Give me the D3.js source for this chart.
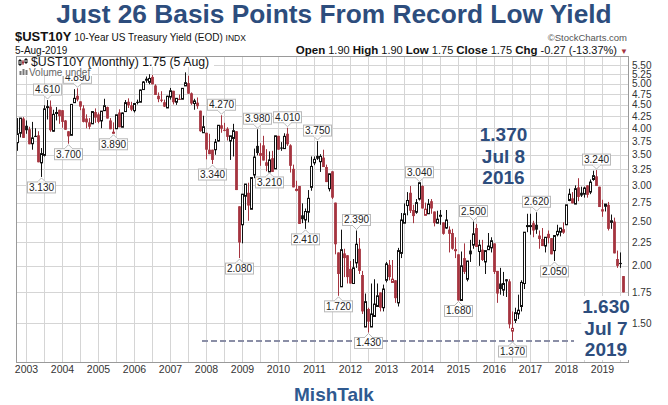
<!DOCTYPE html>
<html><head><meta charset="utf-8">
<script src="https://cdn.jsdelivr.net/npm/d3@7"></script>
<style>
body{margin:0;background:#fff;}
svg{display:block;font-family:"Liberation Sans",Arial,sans-serif;}
</style>
</head><body>
<svg id="c" width="668" height="405"></svg>
<script>
// ---------------- DATA (monthly OHLC, EOD closes, from Oct 2002 to Aug 2019) -------------
const firstMonth = "2002-10";
const opens = [
  3.72, 3.90, 4.20,
  4.05, 3.98, 3.70, 3.85, 3.86, 3.36, 3.49, 4.45, 4.46, 3.94, 4.33, 4.39,
  4.38, 4.16, 3.94, 3.86, 4.55, 4.71, 4.58, 4.42, 4.20, 4.12, 4.09, 4.34,
  4.29, 4.15, 4.37, 4.45, 4.16, 3.91, 3.99, 4.33, 4.02, 4.35, 4.57, 4.49,
  4.37, 4.57, 4.56, 4.86, 5.11, 5.04, 5.18, 4.96, 4.71, 4.62, 4.56, 4.43,
  4.68, 4.83, 4.56, 4.64, 4.63, 4.95, 5.02, 4.77, 4.53, 4.55, 4.37, 3.91,
  3.91, 3.59, 3.59, 3.59, 3.75, 4.06, 3.97, 3.99, 3.75, 3.80, 3.94, 2.70,
  2.46, 2.84, 2.89, 2.66, 3.16, 3.66, 3.53, 3.67, 3.37, 3.21, 3.44, 3.26,
  3.85, 3.63, 3.61, 3.89, 3.67, 3.26, 2.94, 2.99, 2.58, 2.52, 2.62, 2.97,
  3.36, 3.48, 3.38, 3.45, 3.29, 2.95, 3.22, 2.75, 2.14, 1.80, 2.13, 2.11,
  1.97, 1.83, 2.03, 2.18, 1.91, 1.47, 1.61, 1.47, 1.55, 1.63, 1.75, 1.62,
  1.86, 2.01, 1.84, 1.86, 1.66, 2.13, 2.48, 2.71, 2.89, 2.65, 2.62, 2.80,
  2.99, 2.58, 2.60, 2.77, 2.63, 2.48, 2.58, 2.49, 2.42, 2.40, 2.36, 2.17,
  2.12, 1.68, 2.08, 1.87, 2.16, 2.22, 2.42, 2.15, 2.17, 2.04, 2.17, 2.19,
  2.24, 1.95, 1.83, 1.77, 1.87, 1.85, 1.44, 1.52, 1.57, 1.63, 1.83, 2.45,
  2.45, 2.48, 2.46, 2.33, 2.29, 2.21, 2.35, 2.30, 2.16, 2.34, 2.37, 2.37,
  2.46, 2.78, 2.81, 2.73, 2.97, 2.89, 2.87, 3.00, 2.90, 3.09, 3.14, 2.98,
  2.66, 2.70, 2.72, 2.49, 2.50, 2.07, 2.03, 1.90
];
const highs = [
  4.21, 4.21, 4.23,
  4.16, 4.03, 4.13, 4.00, 3.94, 3.62, 4.49, 4.61, 4.60, 4.39, 4.45, 4.39,
  4.38, 4.17, 3.94, 4.52, 4.87, 4.89, 4.58, 4.49, 4.29, 4.21, 4.36, 4.42,
  4.33, 4.36, 4.64, 4.46, 4.21, 4.12, 4.28, 4.40, 4.33, 4.61, 4.65, 4.57,
  4.53, 4.62, 4.86, 5.07, 5.19, 5.25, 5.23, 4.99, 4.79, 4.82, 4.62, 4.71,
  4.90, 4.83, 4.65, 4.74, 4.89, 5.30, 5.21, 4.79, 4.64, 4.67, 4.37, 4.26,
  3.91, 3.89, 3.59, 3.79, 4.06, 4.27, 4.11, 4.02, 3.85, 4.09, 3.94, 2.70,
  2.87, 3.02, 3.04, 3.12, 3.61, 3.98, 3.71, 3.85, 3.60, 3.56, 3.57, 3.85,
  3.85, 3.73, 3.90, 4.01, 3.69, 3.33, 3.07, 2.99, 2.74, 2.67, 2.93, 3.47,
  3.47, 3.75, 3.51, 3.59, 3.33, 3.18, 3.22, 2.75, 2.14, 2.40, 2.18, 2.11,
  2.05, 2.07, 2.39, 2.30, 1.95, 1.74, 1.62, 1.83, 1.87, 1.83, 1.75, 1.82,
  2.04, 2.06, 2.06, 1.86, 2.19, 2.61, 2.74, 2.90, 2.99, 2.72, 2.80, 3.04,
  3.00, 2.75, 2.80, 2.80, 2.63, 2.64, 2.65, 2.49, 2.65, 2.44, 2.41, 2.31,
  2.12, 2.15, 2.24, 2.05, 2.28, 2.50, 2.47, 2.28, 2.28, 2.16, 2.36, 2.31,
  2.24, 1.95, 1.98, 1.94, 1.87, 1.87, 1.59, 1.62, 1.73, 1.86, 2.37, 2.60,
  2.60, 2.51, 2.62, 2.39, 2.42, 2.31, 2.39, 2.30, 2.33, 2.46, 2.42, 2.49,
  2.72, 2.95, 2.90, 3.00, 3.11, 2.98, 2.98, 3.00, 3.09, 3.23, 3.24, 2.98,
  2.79, 2.73, 2.76, 2.59, 2.55, 2.16, 2.14, 1.90
];
const lows = [
  3.57, 3.82, 3.81,
  3.89, 3.69, 3.59, 3.84, 3.37, 3.13, 3.47, 4.18, 3.93, 3.93, 4.16, 4.09,
  4.01, 3.97, 3.70, 3.86, 4.55, 4.58, 4.38, 4.12, 4.00, 3.98, 4.09, 4.11,
  4.10, 4.00, 4.37, 4.20, 3.98, 3.89, 3.99, 4.02, 4.02, 4.35, 4.43, 4.36,
  4.33, 4.51, 4.56, 4.86, 5.03, 4.99, 4.99, 4.73, 4.56, 4.56, 4.45, 4.43,
  4.62, 4.51, 4.50, 4.62, 4.63, 4.95, 4.76, 4.50, 4.39, 4.41, 3.93, 3.91,
  3.42, 3.51, 3.34, 3.50, 3.74, 3.91, 3.94, 3.76, 3.41, 3.47, 2.93, 2.08,
  2.24, 2.65, 2.51, 2.66, 3.11, 3.49, 3.31, 3.40, 3.22, 3.21, 3.21, 3.26,
  3.59, 3.57, 3.61, 3.66, 3.20, 2.97, 2.91, 2.47, 2.48, 2.41, 2.49, 2.92,
  3.32, 3.41, 3.21, 3.29, 3.05, 2.91, 2.80, 2.12, 1.72, 1.80, 1.89, 1.83,
  1.83, 1.83, 1.98, 1.92, 1.57, 1.47, 1.43, 1.47, 1.55, 1.63, 1.59, 1.59,
  1.84, 1.86, 1.84, 1.66, 1.63, 2.08, 2.48, 2.58, 2.61, 2.48, 2.60, 2.78,
  2.67, 2.58, 2.60, 2.60, 2.44, 2.48, 2.46, 2.34, 2.41, 2.14, 2.17, 2.08,
  1.68, 1.68, 1.92, 1.85, 2.04, 2.18, 2.20, 2.00, 2.05, 1.92, 2.17, 2.14,
  1.92, 1.66, 1.73, 1.72, 1.71, 1.46, 1.37, 1.50, 1.53, 1.59, 1.78, 2.37,
  2.34, 2.31, 2.35, 2.18, 2.21, 2.14, 2.24, 2.12, 2.05, 2.32, 2.32, 2.35,
  2.46, 2.77, 2.74, 2.73, 2.77, 2.83, 2.82, 2.82, 2.87, 3.07, 2.99, 2.69,
  2.56, 2.63, 2.39, 2.41, 2.13, 1.98, 1.98, 1.75
];
const closes = [
  3.89, 4.21, 3.81,
  3.96, 3.69, 3.81, 3.84, 3.37, 3.52, 4.41, 4.46, 3.96, 4.29, 4.33, 4.25,
  4.13, 3.97, 3.84, 4.51, 4.65, 4.62, 4.46, 4.13, 4.12, 4.03, 4.35, 4.22,
  4.13, 4.36, 4.48, 4.20, 3.98, 3.92, 4.28, 4.02, 4.32, 4.55, 4.49, 4.39,
  4.53, 4.55, 4.85, 5.05, 5.12, 5.14, 4.99, 4.73, 4.63, 4.61, 4.46, 4.70,
  4.83, 4.56, 4.65, 4.63, 4.89, 5.03, 4.76, 4.53, 4.59, 4.47, 3.94, 4.03,
  3.59, 3.51, 3.41, 3.73, 4.06, 3.99, 3.95, 3.83, 3.85, 3.95, 2.93, 2.25,
  2.87, 3.02, 2.71, 3.12, 3.46, 3.53, 3.48, 3.40, 3.31, 3.41, 3.21, 3.85,
  3.59, 3.61, 3.84, 3.69, 3.31, 2.97, 2.94, 2.47, 2.53, 2.63, 2.81, 3.30,
  3.42, 3.43, 3.47, 3.29, 3.05, 3.18, 2.82, 2.23, 1.92, 2.17, 2.08, 1.89,
  1.83, 1.98, 2.23, 1.95, 1.59, 1.67, 1.51, 1.57, 1.65, 1.72, 1.62, 1.78,
  2.02, 1.89, 1.87, 1.70, 2.16, 2.52, 2.60, 2.78, 2.64, 2.57, 2.75, 3.04,
  2.67, 2.66, 2.73, 2.67, 2.48, 2.53, 2.58, 2.35, 2.52, 2.35, 2.18, 2.17,
  1.68, 2.00, 1.94, 2.05, 2.12, 2.35, 2.20, 2.22, 2.06, 2.16, 2.21, 2.27,
  1.94, 1.74, 1.78, 1.83, 1.85, 1.49, 1.46, 1.58, 1.60, 1.84, 2.37, 2.45,
  2.45, 2.39, 2.40, 2.29, 2.21, 2.31, 2.30, 2.12, 2.33, 2.38, 2.42, 2.40,
  2.72, 2.87, 2.74, 2.95, 2.83, 2.85, 2.96, 2.86, 3.05, 3.15, 2.99, 2.69,
  2.63, 2.73, 2.41, 2.51, 2.13, 2.00, 2.02, 1.75
];
const yTicks = [1.50,1.75,2.00,2.25,2.50,2.75,3.00,3.25,3.50,3.75,4.00,4.25,4.50,4.75,5.00,5.25,5.50];
const yearTicks = [2003,2004,2005,2006,2007,2008,2009,2010,2011,2012,2013,2014,2015,2016,2017,2018,2019];
const labelMonths = ["2003-06","2003-08","2004-03","2004-06","2005-06","2008-03","2008-06","2008-12","2009-06","2009-10","2010-04","2010-10","2011-02","2011-09","2012-03","2012-07","2013-12","2015-01","2015-06","2016-07","2017-03","2017-09","2018-11"];
const labelValues = [3.13,4.61,3.70,4.89,3.89,3.34,4.27,2.08,3.98,3.21,4.01,2.41,3.75,1.72,2.39,1.43,3.04,1.68,2.50,1.37,2.62,2.05,3.24];
const labelSides  = ["low","high","low","high","low","low","high","low","high","low","high","low","high","low","high","low","high","low","high","low","high","low","high"];
const recordLow = 1.37;
const recordLine = ["2007-12","2018-03"];
const noteLeft = ["1.370","Jul 8","2016"];
const noteRight = ["1.630","Jul 7","2019"];

// ---------------- CHART ----------------
const RED = "#a5343f", BLUE = "#2d4d7d";
const svg = d3.select("#c");
const P = {l:16.5, t:56.5, r:628.5, b:362.5};
const monthIdx = s => { const [yy,mm] = s.split("-").map(Number); return (yy-2003)*12 + (mm-1); };
const m0 = monthIdx(firstMonth);
const x = d3.scaleLinear().domain([0,192]).range([26.5,602.5]);
const y = d3.scaleLog().domain([1.5,5.5]).range([323,65]);

svg.append("rect").attr("width",668).attr("height",405).attr("fill","#fff");

// Title
svg.append("text").attr("x",334).attr("y",22.5).attr("text-anchor","middle")
  .attr("font-size",26.3).attr("font-weight","bold").attr("fill",BLUE)
  .text("Just 26 Basis Points From Record Low Yield");

// Header
const h1 = svg.append("text").attr("x",15).attr("y",41).attr("fill","#111");
h1.append("tspan").attr("font-weight","bold").attr("font-size",13).text("$UST10Y");
h1.append("tspan").attr("font-size",10).text(" 10-Year US Treasury Yield (EOD) ");
h1.append("tspan").attr("font-size",8.5).text("INDX");
svg.append("text").attr("x",627).attr("y",41).attr("text-anchor","end").attr("font-size",9.5).attr("fill","#555").text("\u00A9StockCharts.com");
svg.append("text").attr("x",15).attr("y",54).attr("font-size",10).attr("fill","#111").text("5-Aug-2019");
const h2 = svg.append("text").attr("x",628).attr("y",54).attr("text-anchor","end").attr("font-size",11).attr("fill","#111");
[["Open"," 1.90  "],["High"," 1.90  "],["Low"," 1.75  "],["Close"," 1.75  "],["Chg"," -0.27 (-13.37%) "]].forEach(([a,b])=>{
  h2.append("tspan").attr("font-weight","bold").attr("font-size",11.5).text(a);
  h2.append("tspan").text(b);
});
h2.append("tspan").attr("fill",RED).attr("font-size",8).text("\u25BC");

// Plot frame & grid
svg.append("rect").attr("x",P.l).attr("y",P.t).attr("width",P.r-P.l).attr("height",P.b-P.t).attr("fill","#fff");
const grid = svg.append("g").attr("stroke","#d5d5d5").attr("stroke-width",1);
yTicks.forEach(v=>{ const yy = Math.round(y(v))+0.5;
  grid.append("line").attr("x1",P.l).attr("x2",P.r).attr("y1",yy).attr("y2",yy); });
d3.range(0,199,6).forEach(m=>{ const xx = x(m);
  if (xx>P.l && xx<P.r) grid.append("line").attr("x1",xx).attr("x2",xx).attr("y1",P.t).attr("y2",P.b); });
svg.append("rect").attr("x",P.l).attr("y",P.t).attr("width",P.r-P.l).attr("height",P.b-P.t)
  .attr("fill","none").attr("stroke","#9a9a9a");

// y tick labels
svg.append("g").selectAll("text").data(yTicks).join("text")
  .attr("x",632).attr("y",d=>y(d)+3.5).attr("font-size",10).attr("fill","#333").text(d=>d.toFixed(2));
// x tick labels
svg.append("g").selectAll("text").data(yearTicks).join("text")
  .attr("x",d=>x((d-2003)*12)).attr("y",373).attr("text-anchor","middle").attr("font-size",10.5).attr("fill","#333").text(d=>d);

// record-low dashed line
svg.append("line").attr("x1",x(monthIdx(recordLine[0]))-1.5).attr("x2",x(monthIdx(recordLine[1]))+1.5)
  .attr("y1",y(recordLow)).attr("y2",y(recordLow)).attr("stroke","#8a8ea6").attr("stroke-width",2).attr("stroke-dasharray","6,3");

// candles
svg.append("clipPath").attr("id","clip").append("rect").attr("x",P.l+0.5).attr("y",P.t+0.5).attr("width",P.r-P.l-1).attr("height",P.b-P.t-1);
const data = opens.map((o,i)=>({m:m0+i, o, h:highs[i], l:lows[i], c:closes[i], pc: i>0 ? closes[i-1] : o}));
const cg = svg.append("g").attr("clip-path","url(#clip)");
data.forEach(d=>{
  const cx = x(d.m);
  const col = d.c >= d.pc ? "#111" : RED;
  cg.append("line").attr("x1",cx).attr("x2",cx).attr("y1",y(d.h)).attr("y2",y(d.l)).attr("stroke",col).attr("stroke-width",1);
  const top = y(Math.max(d.o,d.c)), bot = y(Math.min(d.o,d.c));
  if (d.c >= d.o) {
    cg.append("rect").attr("x",cx-1).attr("width",2).attr("y",top).attr("height",Math.max(bot-top,1))
      .attr("fill","#fff").attr("stroke",col).attr("stroke-width",1);
  } else {
    cg.append("rect").attr("x",cx-1.4).attr("width",2.8).attr("y",top).attr("height",Math.max(bot-top,1.2))
      .attr("fill",col);
  }
});

// value labels
const lg = svg.append("g");
labelMonths.forEach((ms,k)=>{
  const cx = x(monthIdx(ms)), v = labelValues[k], hi = labelSides[k]==="high";
  const w = 28, h = 11, gap = 5;
  const py = y(v) + (hi ? -1 : 1);
  const by = hi ? y(v)-gap-h : y(v)+gap;
  const edge = hi ? by+h : by;
  lg.append("path").attr("d",`M${cx-4},${edge}L${cx},${py}L${cx+4},${edge}`).attr("fill","#fff").attr("stroke","#b9b9b9");
  lg.append("rect").attr("x",cx-w/2).attr("y",by).attr("width",w).attr("height",h).attr("fill","#fff").attr("stroke","#b9b9b9");
  lg.append("path").attr("d",`M${cx-3.5},${edge}L${cx+3.5},${edge}`).attr("stroke","#fff").attr("stroke-width",1.2);
  lg.append("text").attr("x",cx).attr("y",by+h-2).attr("text-anchor","middle").attr("font-size",10).attr("fill","#222").text(v.toFixed(3));
});

// legend (inside plot)
svg.append("rect").attr("x",17).attr("y",57).attr("width",197).attr("height",10).attr("fill","#fff");
svg.append("rect").attr("x",17).attr("y",67).attr("width",75).attr("height",9).attr("fill","#fff");
const ic = svg.append("g");
[[20,59,66,"#111",false],[23,60,65,RED,true],[26,58,64,"#111",false]].forEach(([xx,a,b,c,f])=>{
  ic.append("line").attr("x1",xx).attr("x2",xx).attr("y1",a).attr("y2",b).attr("stroke",c);
  ic.append("rect").attr("x",xx-1).attr("y",a+1.5).attr("width",2).attr("height",b-a-3).attr("fill",f?c:"#fff").attr("stroke",c).attr("stroke-width",f?0:1);
});
[[19.5,71,4],[22.5,69,6],[25.5,70,5]].forEach(([xx,a,hh])=>ic.append("rect").attr("x",xx).attr("y",a).attr("width",2).attr("height",hh).attr("fill","#777"));
svg.append("text").attr("x",31).attr("y",66).attr("font-size",12.3).attr("fill","#111").text("$UST10Y (Monthly) 1.75 (5 Aug)");
svg.append("text").attr("x",29).attr("y",75.5).attr("font-size",10).attr("fill","#666").text("Volume undef");

// big annotations
function note(lines, cx, y0, bg){
  const g = svg.append("g");
  const t = g.append("text").attr("text-anchor","middle").attr("font-size",19).attr("font-weight","bold").attr("fill",BLUE);
  lines.forEach((s,i)=>t.append("tspan").attr("x",cx).attr("y",y0+i*21.5).text(s));
  if (bg) { const bb = t.node().getBBox();
    g.insert("rect","text").attr("x",bb.x-1).attr("y",bb.y).attr("width",bb.width+2).attr("height",bb.height).attr("fill","#fff"); }
}
note(noteLeft, 503.5, 141, false);
note(noteRight, 606, 313, true);

// footer
svg.append("text").attr("x",334).attr("y",401).attr("text-anchor","middle").attr("font-size",19).attr("font-weight","bold").attr("fill","#2f5a90").text("MishTalk");
</script>
</body></html>
